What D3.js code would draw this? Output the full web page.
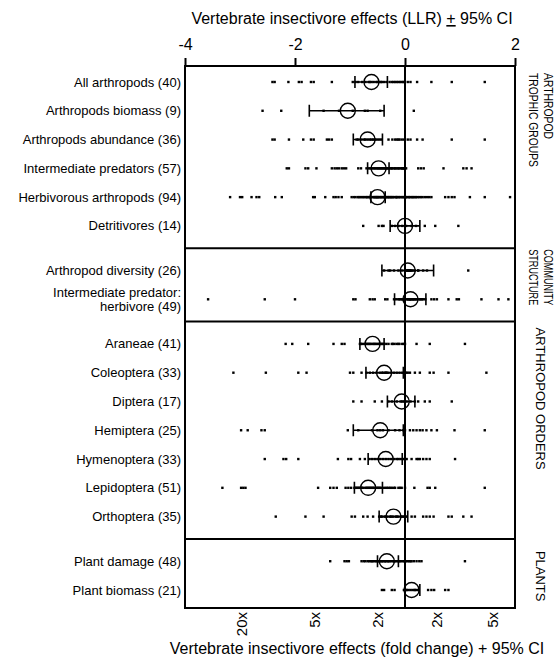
<!DOCTYPE html>
<html>
<head>
<meta charset="utf-8">
<script src="https://cdn.jsdelivr.net/npm/d3@7"></script>
<style>
  html, body { margin: 0; padding: 0; background: #fff; }
  svg { display: block; font-family: Arial, "Liberation Sans", sans-serif; }
</style>
</head>
<body>
<div id="chart"></div>
<script>
// Rows, top to bottom
const rowLabels = [
  "All arthropods", "Arthropods biomass", "Arthropods abundance",
  "Intermediate predators", "Herbivorous arthropods", "Detritivores",
  "Arthropod diversity", "Intermediate predator:|herbivore",
  "Araneae", "Coleoptera", "Diptera", "Hemiptera", "Hymenoptera",
  "Lepidoptera", "Orthoptera",
  "Plant damage ", "Plant biomass",
];
const rowN = [40, 9, 36, 57, 94, 14, 26, 49, 41, 33, 17, 25, 33, 51, 35, 48, 21];
const rowSection = [0, 0, 0, 0, 0, 0, 1, 1, 2, 2, 2, 2, 2, 2, 2, 3, 3];

// Mean effect and 95% CI (LLR)
const means = [-0.61, -1.04, -0.68, -0.48, -0.5, 0.0, 0.05, 0.1,
  -0.59, -0.38, -0.06, -0.45, -0.35, -0.67, -0.21, -0.33, 0.12];
const ciLow = [-0.91, -1.74, -0.94, -0.68, -0.62, -0.27, -0.42, -0.19,
  -0.82, -0.71, -0.32, -0.94, -0.67, -0.92, -0.47, -0.5, 0.0];
const ciHigh = [-0.32, -0.38, -0.41, -0.29, -0.36, 0.27, 0.52, 0.38,
  -0.38, -0.03, 0.18, -0.03, -0.05, -0.41, 0.05, -0.12, 0.27];

// Individual study effects (LLR)
const studyEffects = [
  [-2.41, -2.37, -2.12, -1.93, -1.88, -1.71, -1.66, -1.33, -0.95, -0.9, -0.85, -0.78, -0.72, -0.66,
    -0.61, -0.57, -0.52, -0.47, -0.42, -0.38, -0.33, -0.28, -0.24, -0.21, -0.18, -0.15, -0.12, -0.09,
    -0.06, -0.03, -0.01, 0.05, 0.1, 0.22, 0.48, 0.85, 1.45, -0.64, -0.5, -0.44],
  [-2.59, -2.25, -1.48, -1.2, -0.95, -0.73, -0.68, -0.45, 0.16],
  [-2.41, -2.37, -2.11, -1.85, -1.71, -1.66, -1.42, -1.38, -1.33, -0.88, -0.85, -0.79, -0.74, -0.68,
    -0.64, -0.61, -0.55, -0.48, -0.44, -0.23, -0.18, -0.15, -0.12, -0.1, -0.06, -0.02, 0.05, 0.1,
    0.22, 0.32, 0.85, 1.45, -0.72, -0.58, -0.52, -0.3],
  [-2.15, -2.11, -1.81, -1.76, -1.61, -1.33, -1.28, -1.24, -1.2, -1.15, -1.11, -1.07, -0.85, -0.8,
    -0.7, -0.65, -0.6, -0.55, -0.5, -0.46, -0.42, -0.38, -0.34, -0.3, -0.26, -0.23, -0.2, -0.17,
    -0.14, -0.11, -0.08, -0.05, -0.03, -0.01, 0.02, 0.24, 0.29, 0.34, 0.7, 1.06, 1.12, 1.21,
    -0.62, -0.57, -0.52, -0.48, -0.44, -0.4, -0.36, -0.32, -0.28, -0.24, -0.18, -0.12, -0.06, -0.02, 0.0],
  [-3.18, -3.0, -2.96, -2.79, -2.7, -2.65, -2.36, -2.24, -1.67, -1.64, -1.45, -1.3, -1.26, -1.21, -1.15,
    -0.97, -0.93, -0.9, -0.86, -0.84, -0.81, -0.79, -0.76, -0.74, -0.71, -0.69, -0.68, -0.65, -0.63,
    -0.62, -0.6, -0.57, -0.56, -0.53, -0.52, -0.5, -0.47, -0.46, -0.44, -0.41, -0.4, -0.38, -0.35,
    -0.34, -0.32, -0.29, -0.28, -0.26, -0.23, -0.22, -0.2, -0.17, -0.16, -0.14, -0.11, -0.1, -0.08,
    -0.05, -0.04, -0.02, 0.01, 0.02, 0.04, 0.07, 0.08, 0.1, 0.13, 0.14, 0.16, 0.19, 0.2, 0.23, 0.26,
    0.29, 0.32, 0.36, 0.4, 0.44, 0.48, -0.55, -0.51, -0.49, -0.43, -0.37, -0.31, -0.25, -0.15,
    0.73, 0.79, 0.85, 0.9, 1.18, 1.45, 1.91],
  [-0.76, -0.48, -0.42, -0.39, -0.24, -0.18, -0.12, -0.05, 0.02, 0.12, 0.2, 0.36, 0.55, 0.97],
  [-0.38, -0.3, -0.27, -0.2, -0.12, -0.06, 0.0, 0.0, 0.02, 0.05, 0.05, 0.05, 0.06, 0.08, 0.08,
    0.1, 0.1, 0.12, 0.15, 0.18, 0.24, 0.24, 0.33, 0.4, 1.15, 0.0],
  [-3.58, -2.55, -2.0, -0.94, -0.9, -0.64, -0.59, -0.55, -0.36, -0.32, -0.2, -0.16, -0.12, -0.08,
    -0.05, -0.02, 0.0, 0.03, 0.06, 0.09, 0.12, 0.15, 0.18, 0.21, 0.25, 0.29, 0.33, 0.37, 0.48, 0.53,
    0.58, 0.79, 0.94, 0.98, 1.39, 1.7, 1.88, 0.05, 0.1, 0.1, 0.14, 0.08, -0.1, 0.2, 0.27, 0.31, 0.0,
    0.16, -0.04],
  [-2.17, -2.05, -1.76, -1.3, -1.15, -1.1, -0.82, -0.78, -0.74, -0.7, -0.66, -0.62, -0.59, -0.55,
    -0.5, -0.46, -0.42, -0.38, -0.24, -0.19, -0.15, -0.1, -0.05, 0.0, 0.21, 0.45, 1.09, -0.8, -0.72,
    -0.68, -0.64, -0.57, -0.53, -0.48, -0.44, -0.4, -0.34, -0.3, -0.22, -0.12, -0.02],
  [-3.12, -2.53, -1.94, -1.79, -1.0, -0.94, -0.79, -0.7, -0.64, -0.58, -0.52, -0.46, -0.4, -0.35,
    -0.3, -0.25, -0.2, -0.15, -0.1, -0.05, 0.02, 0.09, 0.18, 0.27, 0.45, 0.52, 0.79, 1.48, -0.42,
    -0.36, -0.33, 0.0, 0.05],
  [-0.94, -0.79, -0.55, -0.42, -0.3, -0.24, -0.15, -0.08, -0.02, 0.03, 0.1, 0.18, 0.24, 0.36, 0.45,
    0.85, -0.05],
  [-2.98, -2.86, -2.61, -2.55, -1.04, -0.85, -0.6, -0.45, -0.3, -0.18, -0.03, 0.09, 0.21, 0.27, 0.32,
    0.39, 0.48, 0.58, 0.9, 1.45, -0.5, -0.4, -0.1, 0.0, 0.15],
  [-2.55, -2.21, -2.16, -1.94, -1.22, -1.03, -0.98, -0.82, -0.73, -0.65, -0.55, -0.45, -0.35, -0.25,
    -0.15, -0.08, 0.03, 0.12, 0.21, 0.27, 0.33, 0.39, 0.45, 0.91, -0.6, -0.5, -0.4, -0.3, -0.2,
    -0.12, -0.04, 0.0, 0.24],
  [-3.32, -2.98, -2.94, -2.9, -1.58, -1.36, -1.3, -1.24, -1.08, -1.03, -0.98, -0.92, -0.88, -0.84,
    -0.8, -0.76, -0.72, -0.68, -0.64, -0.6, -0.56, -0.52, -0.48, -0.44, -0.4, -0.36, -0.3, -0.24,
    -0.18, -0.12, -0.06, 0.0, 0.17, 0.41, 0.45, 0.55, 1.45, -0.9, -0.86, -0.82, -0.78, -0.7, -0.66,
    -0.62, -0.58, -0.5, -0.46, -0.33, -0.27, -0.2, -0.09],
  [-2.35, -1.81, -1.48, -0.97, -0.91, -0.76, -0.68, -0.58, -0.47, -0.42, -0.37, -0.32, -0.27, -0.22,
    -0.17, -0.12, -0.07, -0.02, 0.03, 0.12, 0.18, 0.33, 0.39, 0.45, 0.52, 0.79, 0.85, 1.06, 1.21,
    -0.44, -0.35, -0.25, -0.15, -0.05, 0.0],
  [-1.36, -1.1, -1.06, -1.02, -0.79, -0.75, -0.72, -0.68, -0.65, -0.62, -0.58, -0.55, -0.52, -0.49,
    -0.46, -0.43, -0.4, -0.37, -0.34, -0.31, -0.28, -0.25, -0.22, -0.19, -0.16, -0.13, -0.1, -0.07,
    -0.04, -0.01, 0.02, 0.05, 0.08, 0.12, 0.16, 0.21, 0.26, 0.3, 1.09, -0.6, -0.5, -0.42, -0.36,
    -0.3, -0.2, -0.11, 0.0, 0.1],
  [-0.42, -0.38, -0.24, -0.19, -0.02, 0.0, 0.01, 0.03, 0.06, 0.1, 0.14, 0.18, 0.18, 0.22, 0.25, 0.42,
    0.48, 0.53, 0.73, 0.79, 0.0],
];

const sectionLabels = [
  ["ARTHROPOD", "TROPHIC GROUPS"],
  ["COMMUNITY", "STRUCTURE"],
  ["ARTHROPOD ORDERS"],
  ["PLANTS"],
];

const topTicks = [-4, -2, 0, 2];
// fold-change labels and where they sit on the LLR axis
const foldLabels = ["20x", "5x", "2x", "2x", "5x"];
const foldLlr = [-2.97, -1.64, -0.49, 0.58, 1.6];

const topTitle = ["Vertebrate insectivore effects (LLR) ", "+", " 95% CI"];
const bottomTitle = "Vertebrate insectivore effects (fold change) + 95% CI";

const WIDTH = 555;
const HEIGHT = 658;
const BOX = { left: 185, right: 515, top: 66, bottom: 608 };
const SECTION_GAP = 0.55;
const FONT = 13;
// right-hand labels: offset from section top, optional squeeze per line
const SECTION_LABEL_OFFSET = [7, 1, 6, 12];
const SECTION_LABEL_LENGTH = [[66, 94], [56, 56], null, null];

const svg = d3.select("#chart")
  .append("svg")
  .attr("width", WIDTH)
  .attr("height", HEIGHT);

const x = d3.scaleLinear().domain([-4, 2]).range([BOX.left, BOX.right]);

// row slot: index plus a gap for each section boundary passed
const slots = rowSection.map((s, i) => i + s * SECTION_GAP);
const y = d3.scaleLinear()
  .domain([0, slots[slots.length - 1]])
  .range([82, 590]);
const rowY = i => y(slots[i]);

// section extents
const sectionIds = d3.range(sectionLabels.length);
const sectionBounds = sectionIds.map(s => {
  const idx = d3.range(rowN.length).filter(i => rowSection[i] === s);
  const first = idx[0];
  const last = idx[idx.length - 1];
  const top = first === 0 ? BOX.top : (rowY(first) + rowY(first - 1)) / 2;
  const bottom = last === rowN.length - 1 ? BOX.bottom : (rowY(last) + rowY(last + 1)) / 2;
  return { top, bottom };
});

// titles
const tt = svg.append("text")
  .attr("x", 352)
  .attr("y", 24)
  .attr("text-anchor", "middle")
  .attr("font-size", 16);
tt.append("tspan").text(topTitle[0]);
tt.append("tspan").attr("text-decoration", "underline").text(topTitle[1]);
tt.append("tspan").text(topTitle[2]);

svg.append("text")
  .attr("x", 357)
  .attr("y", 654)
  .attr("text-anchor", "middle")
  .attr("font-size", 16)
  .text(bottomTitle);

// top axis
const axisG = svg.append("g")
  .attr("transform", `translate(0,${BOX.top})`)
  .call(d3.axisTop(x).tickValues(topTicks).tickSize(8).tickSizeOuter(0).tickPadding(8)
    .tickFormat(d3.format("d")));
axisG.select(".domain").remove();
axisG.selectAll(".tick line").attr("stroke", "#000").attr("stroke-width", 2);
axisG.selectAll(".tick text")
  .attr("font-size", 16)
  .attr("font-family", "Arial, 'Liberation Sans', sans-serif")
  .attr("fill", "#000")
  .text(d => d < 0 ? "-" + Math.abs(d) : d);

// bottom fold-change labels (rotated)
svg.append("g")
  .selectAll("text")
  .data(foldLabels)
  .join("text")
  .attr("transform", (d, i) => `translate(${x(foldLlr[i])},${BOX.bottom + 4}) rotate(-90)`)
  .attr("text-anchor", "end")
  .attr("dy", "0.36em")
  .attr("font-size", 15)
  .text(d => d);

// frame, dividers, zero line
const frame = svg.append("g")
  .attr("fill", "none")
  .attr("stroke", "#000")
  .attr("stroke-width", 2);
frame.append("rect")
  .attr("x", BOX.left)
  .attr("y", BOX.top)
  .attr("width", BOX.right - BOX.left)
  .attr("height", BOX.bottom - BOX.top);
frame.selectAll("line.divider")
  .data(sectionBounds.slice(1))
  .join("line")
  .attr("class", "divider")
  .attr("x1", BOX.left)
  .attr("x2", BOX.right)
  .attr("y1", d => d.top)
  .attr("y2", d => d.top);
frame.append("line")
  .attr("x1", x(0))
  .attr("x2", x(0))
  .attr("y1", BOX.top)
  .attr("y2", BOX.bottom);

// row labels
const labelG = svg.append("g")
  .attr("text-anchor", "end")
  .attr("font-size", FONT);
rowLabels.forEach((label, i) => {
  const lines = label.split("|");
  const text = labelG.append("text")
    .attr("x", 181)
    .attr("y", rowY(i));
  lines.forEach((line, j) => {
    const isLast = j === lines.length - 1;
    text.append("tspan")
      .attr("x", 181)
      .attr("dy", j === 0 ? `${0.35 - (lines.length - 1) * 0.55}em` : "1.1em")
      .text(isLast ? `${line} (${rowN[i]})` : line);
  });
});

// section labels on the right (rotated 90), hung from the section top
sectionLabels.forEach((lines, s) => {
  const b = sectionBounds[s];
  const text = svg.append("text")
    .attr("transform", `translate(${541},${b.top + SECTION_LABEL_OFFSET[s]}) rotate(90)`)
    .attr("text-anchor", "start")
    .attr("font-size", FONT);
  lines.forEach((line, j) => {
    const span = text.append("tspan")
      .attr("x", 0)
      .attr("dy", j === 0 ? `${0.35 - (lines.length - 1) * 0.55}em` : "1.1em")
      .text(line);
    const lengths = SECTION_LABEL_LENGTH[s];
    if (lengths) {
      span.attr("textLength", lengths[j])
        .attr("lengthAdjust", "spacingAndGlyphs");
    }
  });
});

// study points
const dotG = svg.append("g").attr("fill", "#000");
studyEffects.forEach((values, i) => {
  dotG.selectAll(null)
    .data(values)
    .join("rect")
    .attr("x", d => x(d) - 1.2)
    .attr("y", rowY(i) - 1.2)
    .attr("width", 2.4)
    .attr("height", 2.4);
});

// error bars and means
const CAP = 6;
const summaryG = svg.append("g")
  .attr("fill", "none")
  .attr("stroke", "#000");
summaryG.selectAll("path.ci")
  .data(means)
  .join("path")
  .attr("class", "ci")
  .attr("stroke-width", 1.6)
  .attr("d", (d, i) => {
    const yy = rowY(i);
    const x0 = x(ciLow[i]);
    const x1 = x(ciHigh[i]);
    return `M${x0},${yy - CAP}V${yy + CAP}M${x0},${yy}H${x1}M${x1},${yy - CAP}V${yy + CAP}`;
  });
summaryG.selectAll("circle")
  .data(means)
  .join("circle")
  .attr("cx", d => x(d))
  .attr("cy", (d, i) => rowY(i))
  .attr("r", 7.5)
  .attr("stroke-width", 1.4);
</script>
</body>
</html>
